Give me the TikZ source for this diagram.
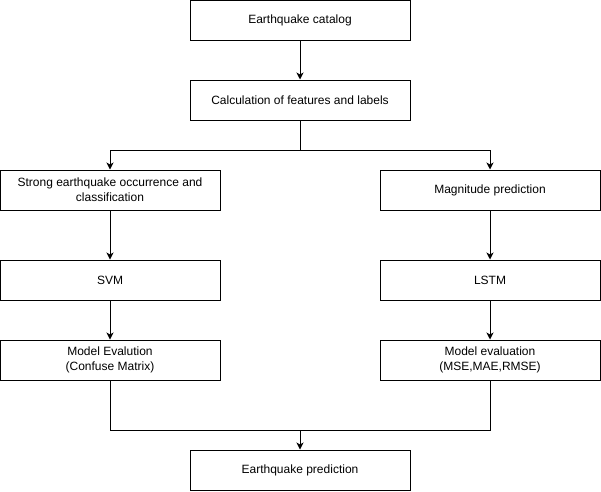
\documentclass[tikz,border=0pt]{standalone}
\usepackage{fontspec}
\setmainfont{Liberation Sans}
\usepackage{tikz}
\usetikzlibrary{arrows.meta,positioning}

\begin{document}
\begin{tikzpicture}[
  x=1pt, y=-1pt,
  font=\fontsize{12}{15}\selectfont,
  >={Stealth[length=7pt,width=7pt,inset=2pt]},
  flowbox/.style={
    draw=black,
    fill=white,
    line width=1pt,
    minimum width=220pt,
    minimum height=40pt,
    inner sep=0pt,
    align=center
  },
  flowline/.style={line width=1pt, black}
]
  \useasboundingbox (0,0) rectangle (601,491);

  % --- top of the chain ---
  \node[flowbox] (catalog) at (300,20) {Earthquake catalog};
  \node[flowbox] (features) at (300,100) {Calculation of features and labels};

  % --- left branch: classification ---
  \node[flowbox] (strong) at (110,190) {Strong earthquake occurrence and\\classification};
  \node[flowbox] (svm) at (110,280) {SVM};
  \node[flowbox] (evalsvm) at (110,360) {Model Evalution\\(Confuse Matrix)};

  % --- right branch: regression ---
  \node[flowbox] (magnitude) at (490,190) {Magnitude prediction};
  \node[flowbox] (lstm) at (490,280) {LSTM};
  \node[flowbox] (evallstm) at (490,360) {Model evaluation\\(MSE,MAE,RMSE)};

  % --- bottom ---
  \node[flowbox] (prediction) at (300,470) {Earthquake prediction};

  \coordinate (split) at (300,150);
  \coordinate (merge) at (300,430);

  % Connectors
  \draw[flowline,->] (catalog) -- (features);
  \draw[flowline] (features.south) -- (split);
  \draw[flowline,->] (split) -| (strong.north);
  \draw[flowline,->] (split) -| (magnitude.north);
  \draw[flowline,->] (strong) -- (svm);
  \draw[flowline,->] (svm) -- (evalsvm);
  \draw[flowline,->] (magnitude) -- (lstm);
  \draw[flowline,->] (lstm) -- (evallstm);
  \draw[flowline] (evalsvm.south) |- (merge) -| (evallstm.south);
  \draw[flowline,->] (merge) -- (prediction);

\end{tikzpicture}
\end{document}
